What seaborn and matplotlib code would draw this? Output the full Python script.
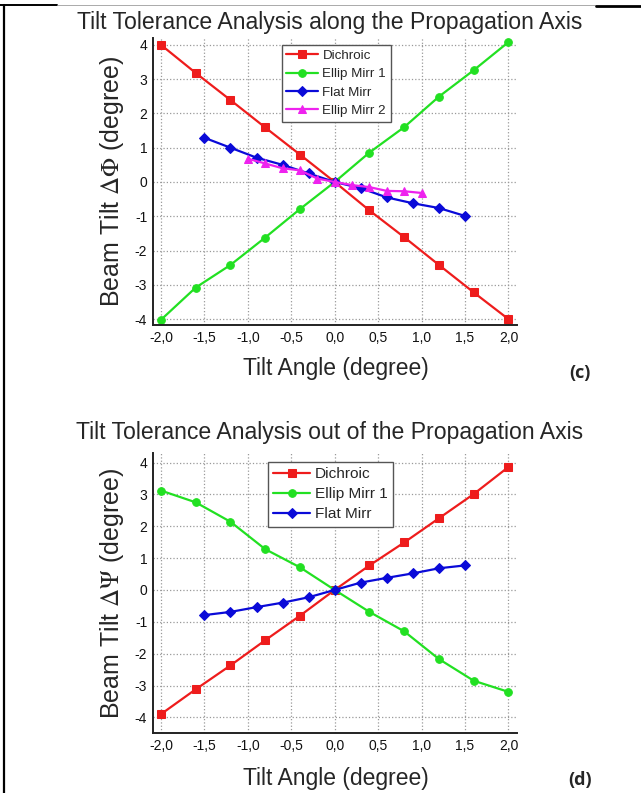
import numpy as np
import pandas as pd
import matplotlib
matplotlib.use("Agg")
import matplotlib.pyplot as plt
import seaborn as sns
from matplotlib.ticker import FixedLocator, FuncFormatter

# ---- data ----
x_main = [-2.0, -1.6, -1.2, -0.8, -0.4, 0.0, 0.4, 0.8, 1.2, 1.6, 2.0]
x_flat = [-1.5, -1.2, -0.9, -0.6, -0.3, 0.0, 0.3, 0.6, 0.9, 1.2, 1.5]
x_ellip2 = [-1.0, -0.8, -0.6, -0.4, -0.2, 0.0, 0.2, 0.4, 0.6, 0.8, 1.0]

# (c) along the propagation axis
dichroic_c = [4.0, 3.18, 2.39, 1.59, 0.80, 0.0, -0.83, -1.61, -2.42, -3.22, -4.0]
ellip1_c = [-4.02, -3.08, -2.42, -1.62, -0.79, 0.0, 0.86, 1.60, 2.49, 3.26, 4.08]
flat_c = [1.29, 1.0, 0.71, 0.50, 0.25, 0.0, -0.18, -0.45, -0.62, -0.76, -0.99]
ellip2_c = [0.68, 0.54, 0.40, 0.34, 0.10, 0.0, -0.09, -0.15, -0.26, -0.27, -0.32]

# (d) out of the propagation axis
dichroic_d = [-3.90, -3.12, -2.37, -1.58, -0.81, 0.0, 0.77, 1.49, 2.25, 3.01, 3.86]
ellip1_d = [3.12, 2.75, 2.14, 1.28, 0.71, 0.0, -0.69, -1.30, -2.17, -2.85, -3.20]
flat_d = [-0.79, -0.69, -0.54, -0.40, -0.23, 0.0, 0.23, 0.38, 0.52, 0.68, 0.77]

x_ticks = [-2.0, -1.5, -1.0, -0.5, 0.0, 0.5, 1.0, 1.5, 2.0]
y_ticks = [-4, -3, -2, -1, 0, 1, 2, 3, 4]

RED, GREEN, BLUE, MAGENTA = "#ee1c1c", "#22e022", "#0a0ad8", "#ee22ee"

sns.set_style("white")
plt.rcParams["font.family"] = ["Liberation Sans", "DejaVu Sans"]
plt.rcParams["mathtext.fontset"] = "stix"
plt.rcParams["axes.unicode_minus"] = False

fig = plt.figure(figsize=(6.41, 7.93), dpi=100)


def style_axes(ax, ylim, ylabel):
    ax.set_xlim(-2.095, 2.095)
    ax.set_ylim(*ylim)
    ax.xaxis.set_major_locator(FixedLocator(x_ticks))
    ax.yaxis.set_major_locator(FixedLocator(y_ticks))
    ax.xaxis.set_major_formatter(FuncFormatter(lambda v, p: f"{v:.1f}".replace(".", ",")))
    ax.yaxis.set_major_formatter(FuncFormatter(lambda v, p: f"{int(round(v))}"))
    ax.grid(True, color="#999999", linestyle=":", linewidth=0.9)
    ax.set_axisbelow(True)
    for s in ["top", "right"]:
        ax.spines[s].set_visible(False)
    for s in ["left", "bottom"]:
        ax.spines[s].set_color("#222222")
        ax.spines[s].set_linewidth(1.4)
    ax.tick_params(length=0, pad=4, labelsize=10, colors="#111111")
    ax.set_xlabel("")
    ax.set_ylabel(ylabel, fontsize=18, labelpad=6)


def series(ax, x, y, color, marker, label, ms):
    sns.lineplot(x=x, y=y, ax=ax, color=color, marker=marker, markersize=ms,
                 markeredgecolor=color, linewidth=1.6, label=label)


# ---- panel (c) ----
ax1 = fig.add_axes([0.2382, 0.5902, 0.5679, 0.3619])
series(ax1, x_main, dichroic_c, RED, "s", "Dichroic", 5.5)
series(ax1, x_main, ellip1_c, GREEN, "o", "Ellip Mirr 1", 5.5)
series(ax1, x_flat, flat_c, BLUE, "D", "Flat Mirr", 5.5)
series(ax1, x_ellip2, ellip2_c, MAGENTA, "^", "Ellip Mirr 2", 6)
style_axes(ax1, (-4.17, 4.2), r"Beam Tilt $\Delta\Phi$ (degree)")
ax1.legend(loc="upper left", bbox_to_anchor=(0.4395, 0.9433), bbox_transform=fig.transFigure,
           fontsize=9.6, frameon=True, fancybox=False, edgecolor="#555555", framealpha=1,
           handlelength=2.4, labelspacing=0.45, borderpad=0.35, handletextpad=0.3,
           borderaxespad=0)

# ---- panel (d) ----
ax2 = fig.add_axes([0.2382, 0.0753, 0.5679, 0.3535])
series(ax2, x_main, dichroic_d, RED, "s", "Dichroic", 5.5)
series(ax2, x_main, ellip1_d, GREEN, "o", "Ellip Mirr 1", 5.5)
series(ax2, x_flat, flat_d, BLUE, "D", "Flat Mirr", 5.5)
style_axes(ax2, (-4.5, 4.3), r"Beam Tilt $\Delta\Psi$ (degree)")
ax2.legend(loc="upper left", bbox_to_anchor=(0.418, 0.4174), bbox_transform=fig.transFigure,
           fontsize=11.1, frameon=True, fancybox=False, edgecolor="#555555", framealpha=1,
           handlelength=2.4, labelspacing=0.38, borderpad=0.35, handletextpad=0.3,
           borderaxespad=0)

# titles, axis labels and panel tags
fig.text(330 / 641, 1 - 22 / 793, "Tilt Tolerance Analysis along the Propagation Axis",
         ha="center", va="center", fontsize=16.6)
fig.text(330 / 641, 1 - 432 / 793, "Tilt Tolerance Analysis out of the Propagation Axis",
         ha="center", va="center", fontsize=16.6)
fig.text(336 / 641, 1 - 368 / 793, "Tilt Angle (degree)", ha="center", va="center", fontsize=16.5)
fig.text(336 / 641, 1 - 778 / 793, "Tilt Angle (degree)", ha="center", va="center", fontsize=16.5)
fig.text(580 / 641, 1 - 373 / 793, "(c)", ha="center", va="center", fontsize=13,
         fontweight="bold", family=["Open Sans", "DejaVu Sans"])
fig.text(580 / 641, 1 - 780 / 793, "(d)", ha="center", va="center", fontsize=13,
         fontweight="bold", family=["Open Sans", "DejaVu Sans"])

# page frame lines
fig.add_artist(plt.Line2D([4 / 641, 4 / 641], [0, 1 - 5 / 793], color="black", lw=1.6))
fig.add_artist(plt.Line2D([0, 57 / 641], [1 - 5 / 793] * 2, color="black", lw=1.4))
fig.add_artist(plt.Line2D([57 / 641, 596 / 641], [1 - 5 / 793] * 2, color="#888888", lw=0.5))
fig.add_artist(plt.Line2D([596 / 641, 1], [1 - 6 / 793] * 2, color="black", lw=2.0))

fig.savefig("out.png", dpi=100)
